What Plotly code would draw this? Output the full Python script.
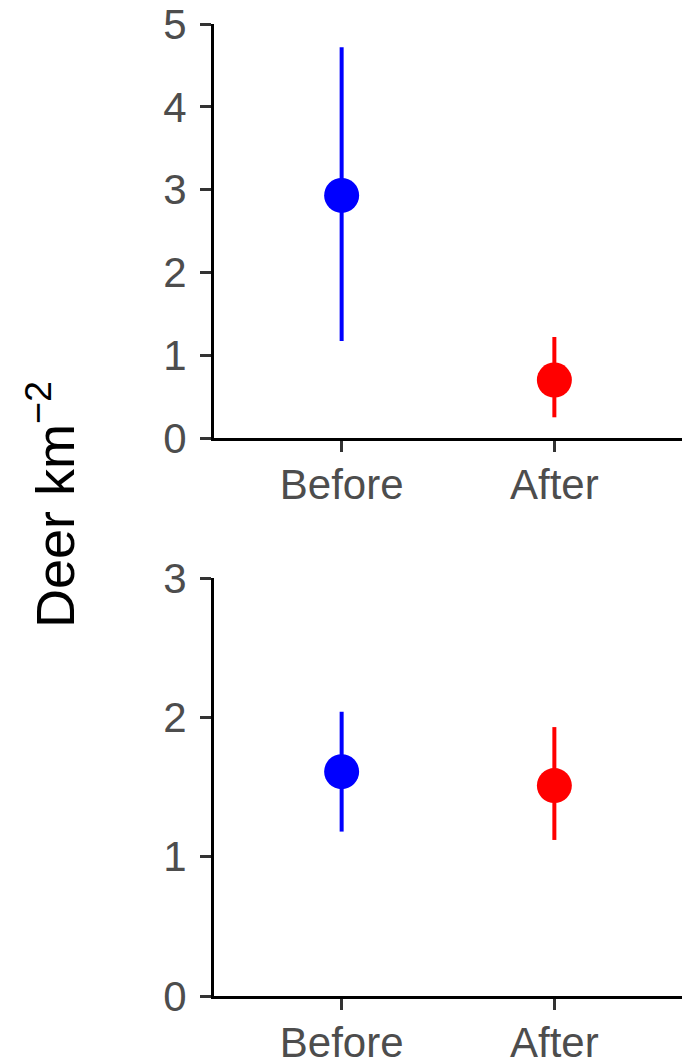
import plotly.graph_objects as go
from plotly.subplots import make_subplots

periods = ["Before", "After"]
colors = ["#0000FF", "#FF0000"]

top_mean = [2.93, 0.70]
top_upper = [4.72, 1.22]
top_lower = [1.17, 0.25]

bot_mean = [1.61, 1.51]
bot_upper = [2.04, 1.93]
bot_lower = [1.18, 1.12]

W, H = 682, 1064
FONT = "Liberation Sans, Arial, sans-serif"

fig = make_subplots(rows=2, cols=1)

def add_panel(means, ups, lows, row):
    for p, m, u, l, c in zip(periods, means, ups, lows, colors):
        fig.add_trace(go.Scatter(
            x=[p], y=[m], mode="markers",
            marker=dict(color=c, size=35, line=dict(width=0)),
            error_y=dict(type="data", symmetric=False, array=[u - m], arrayminus=[m - l],
                         color=c, thickness=4, width=0),
            showlegend=False, cliponaxis=False,
        ), row=row, col=1)

add_panel(top_mean, top_upper, top_lower, 1)
add_panel(bot_mean, bot_upper, bot_lower, 2)

def ydom(top_px, bot_px):
    return [(H - bot_px) / H, (H - top_px) / H]

xdom = [214 / W, 1.0]
top_dom = ydom(24, 438)
bot_dom = ydom(578, 996)

axis_common = dict(showline=True, linewidth=3, linecolor="black", showgrid=False, zeroline=False,
                   automargin=False, ticklabeloverflow="allow",
                   ticks="outside", ticklen=11, tickwidth=3, tickcolor="#333333",
                   tickfont=dict(family=FONT, size=42, color="#4D4D4D"))

fig.update_xaxes(**axis_common, type="category", categoryorder="array", categoryarray=periods,
                 range=[-0.6, 1.6], domain=xdom, ticklabelstandoff=-3)
fig.update_yaxes(**axis_common, ticklabelstandoff=5)
fig.update_yaxes(range=[0, 5], tickvals=[0, 1, 2, 3, 4, 5], domain=top_dom, row=1, col=1)
fig.update_yaxes(range=[0, 3], tickvals=[0, 1, 2, 3], domain=bot_dom, row=2, col=1)

fig.add_annotation(text="Deer km<sup>−2</sup>", xref="paper", yref="paper",
                   x=51 / W, y=(H - 505) / H, textangle=-90, showarrow=False,
                   font=dict(family=FONT, size=54, color="black"),
                   xanchor="center", yanchor="middle")

fig.update_layout(template="none", width=W, height=H, margin=dict(l=0, r=0, t=0, b=0),
                  plot_bgcolor="white", paper_bgcolor="white")

fig.write_html("out.html", config={"displayModeBar": False},
               post_script="document.body.style.margin='0';document.body.style.overflow='hidden';")
